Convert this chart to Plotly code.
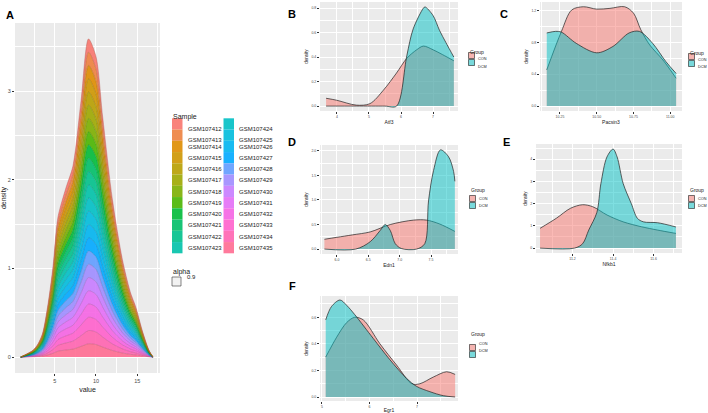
import math
import plotly.graph_objects as go

# ── Panel A: stacked sample densities ─────────────────────────────────────────
A_SAMPLES = [f"GSM1074{n}" for n in range(12, 36)]
A_X = [0.9, 2.4, 3.0, 3.55, 4.2, 4.8, 5.4, 6.4, 7.2, 8.2, 9.1, 10.0,
       10.8, 12.0, 13.2, 14.2, 14.8, 15.6, 16.4, 16.9]
A_DENS = [0.0, 0.0033, 0.0063, 0.0113, 0.025, 0.0425, 0.0658, 0.080, 0.0896,
          0.1208, 0.1496, 0.1413, 0.1133, 0.0738, 0.0458, 0.030, 0.0238,
          0.0125, 0.0033, 0.0]

# ── Panels B–F: CON vs DCM densities ──────────────────────────────────────────
B_CON_X = [3.66, 3.99, 4.6, 5.03, 5.45, 5.86, 6.18, 6.49, 6.7, 7.0, 7.3, 7.65]
B_CON_Y = [0.064, 0.048, 0.008, 0.02, 0.13, 0.27, 0.39, 0.46, 0.49, 0.46, 0.42, 0.37]
B_DCM_X = [3.66, 4.6, 5.5, 5.86, 6.18, 6.38, 6.7, 6.75, 7.0, 7.2, 7.4, 7.65]
B_DCM_Y = [0.0, 0.0, 0.0, 0.0, 0.41, 0.63, 0.80, 0.81, 0.74, 0.62, 0.52, 0.40]

C_CON_X = [10.16, 10.26, 10.33, 10.41, 10.50, 10.59, 10.69, 10.75, 10.80, 10.86, 10.95, 11.04]
C_CON_Y = [0.455, 0.94, 1.21, 1.25, 1.22, 1.23, 1.25, 1.17, 0.96, 0.77, 0.58, 0.35]
C_DCM_X = [10.16, 10.22, 10.26, 10.36, 10.50, 10.61, 10.72, 10.79, 10.88, 10.97, 11.04]
C_DCM_Y = [0.92, 0.94, 0.93, 0.79, 0.67, 0.75, 0.92, 0.94, 0.79, 0.56, 0.41]

D_CON_X = [5.8, 6.0, 6.25, 6.53, 6.85, 7.22, 7.43, 7.64, 7.88]
D_CON_Y = [0.20, 0.24, 0.29, 0.35, 0.50, 0.59, 0.59, 0.51, 0.36]
D_DCM_X = [5.8, 6.3, 6.53, 6.69, 6.77, 6.85, 6.93, 7.03, 7.27, 7.40, 7.46,
           7.54, 7.65, 7.78, 7.86, 7.88]
D_DCM_Y = [0.0, 0.0, 0.15, 0.38, 0.50, 0.38, 0.11, 0.01, 0.0, 0.11, 0.98,
           1.6, 2.02, 1.88, 1.58, 1.38]

E_CON_X = [11.04, 11.12, 11.19, 11.25, 11.30, 11.37, 11.45, 11.54, 11.62, 11.71]
E_CON_Y = [0.89, 1.34, 1.79, 1.95, 1.86, 1.49, 1.18, 0.96, 0.81, 0.66]
E_DCM_X = [11.04, 11.21, 11.25, 11.28, 11.32, 11.34, 11.37, 11.40, 11.42,
           11.45, 11.49, 11.52, 11.55, 11.62, 11.71]
E_DCM_Y = [0.0, 0.0, 0.2, 0.81, 1.6, 2.9, 4.1, 4.45, 4.1, 2.9, 2.0, 1.34,
           1.18, 1.14, 0.95]

F_CON_X = [5.08, 5.31, 5.52, 5.69, 5.87, 6.22, 6.57, 6.89, 7.06, 7.34, 7.62, 7.80]
F_CON_Y = [0.30, 0.45, 0.56, 0.60, 0.58, 0.40, 0.24, 0.10, 0.10, 0.15, 0.19, 0.17]
F_DCM_X = [5.08, 5.2, 5.38, 5.52, 5.69, 6.08, 6.43, 6.78, 6.99, 7.27, 7.55, 7.80]
F_DCM_Y = [0.58, 0.68, 0.73, 0.69, 0.62, 0.44, 0.28, 0.14, 0.08, 0.04, 0.01, 0.0]

GROUPS = ["CON", "DCM"]

W, H = 708, 413
_FONT = "Liberation Sans, Arial, sans-serif"
_PANEL = "#EBEBEB"
_TXT = "#4D4D4D"
_CON = "rgba(248,118,109,0.5)"
_DCM = "rgba(0,191,196,0.5)"


def hcl_hex(h, c=100.0, l=65.0):
    """ggplot2 hue_pal colour (polarLUV -> sRGB)."""
    xn, yn, zn = 95.047, 100.0, 108.883
    y = yn * ((l + 16) / 116) ** 3
    u, v = c * math.cos(math.radians(h)), c * math.sin(math.radians(h))
    den = xn + 15 * yn + 3 * zn
    up, vp = u / (13 * l) + 4 * xn / den, v / (13 * l) + 9 * yn / den
    x = y * 9 * up / (4 * vp)
    z = y * (12 - 3 * up - 20 * vp) / (4 * vp)
    x, y, z = x / 100, y / 100, z / 100
    rgb = [3.2404542 * x - 1.5371385 * y - 0.4985314 * z,
           -0.9692660 * x + 1.8760108 * y + 0.0415560 * z,
           0.0556434 * x - 0.2040259 * y + 1.0572252 * z]
    out = []
    for ch in rgb:
        ch = 12.92 * ch if ch <= 0.0031308 else 1.055 * max(ch, 0) ** (1 / 2.4) - 0.055
        out.append(int(round(min(max(ch, 0), 1) * 255)))
    return out


def px(x):
    return x / W


def py(y):
    return 1 - y / H


def axis(dom_px, rng, dtick, minor, fmt, size=4, title=None, tsize=5, standoff=3):
    d = dict(domain=dom_px, range=rng, dtick=dtick, tick0=0, tickformat=fmt,
             showgrid=True, gridcolor="white", gridwidth=0.9, zeroline=False,
             showline=False, ticks="outside", ticklen=2, tickwidth=0.6,
             tickcolor="#333333", tickfont=dict(size=size, color=_TXT, family=_FONT),
             minor=dict(dtick=minor, tick0=0, showgrid=True, gridcolor="white",
                        gridwidth=0.45, ticks=""),
             automargin=False, fixedrange=True)
    if title:
        d["title"] = dict(text=title, font=dict(size=tsize, color="#222", family=_FONT),
                          standoff=standoff)
    return d


fig = go.Figure()
layout = dict(width=W, height=H, margin=dict(l=0, r=0, t=0, b=0),
              paper_bgcolor="white", plot_bgcolor=_PANEL, showlegend=False,
              font=dict(family=_FONT))

# ── A ────────────────────────────────────────────────────────────────────────
cols = [hcl_hex(15 + 15 * i) for i in range(24)]
for i in reversed(range(24)):
    r, g, b = cols[i]
    fig.add_trace(go.Scatter(
        x=A_X, y=A_DENS, mode="lines", stackgroup="a",
        line=dict(color=f"rgba({int(r*.7)},{int(g*.7)},{int(b*.7)},0.8)",
                  width=0.5, shape="spline", smoothing=0.8),
        fillcolor=f"rgba({r},{g},{b},0.9)", name=A_SAMPLES[i],
        xaxis="x", yaxis="y"))
layout["xaxis"] = axis([px(15), px(160)], [0.2, 17.75], 5, 2.5, "d", 5.5,
                       "value", 7, 4)
layout["yaxis"] = axis([py(373), py(23)], [-0.18, 3.77], 1, 0.5, "d", 5.5,
                       "density", 7, 4)

panels = [
    # name, x px, y px, xrange, yrange, xdtick, ydtick, xfmt, yfmt, xtitle, data
    ("2", (320, 458), (111, 2), [3.47, 7.78], [-0.04, 0.85], 1, 0.2, "d", ".1f",
     "Atf3", (B_CON_X, B_CON_Y, B_DCM_X, B_DCM_Y)),
    ("3", (540, 682), (111, 2), [10.114, 11.08], [-0.063, 1.31], 0.25, 0.4, ".2f", ".1f",
     "Pacsin3", (C_CON_X, C_CON_Y, C_DCM_X, C_DCM_Y)),
    ("4", (320, 458), (254, 145), [5.73, 7.93], [-0.1, 2.12], 0.5, 0.5, ".1f", ".1f",
     "Edn1", (D_CON_X, D_CON_Y, D_DCM_X, D_DCM_Y)),
    ("5", (536, 682), (253, 144), [11.02, 11.74], [-0.22, 4.68], 0.2, 1, ".1f", "d",
     "Nfkb1", (E_CON_X, E_CON_Y, E_DCM_X, E_DCM_Y)),
    ("6", (320, 458), (401, 296), [4.96, 7.86], [-0.03, 0.76], 1, 0.2, "d", ".1f",
     "Egr1", (F_CON_X, F_CON_Y, F_DCM_X, F_DCM_Y)),
]

for n, (xl, xr), (yb, yt), xr_, yr_, xd, yd, xf, yf, xt, data in panels:
    cx, cy, dx, dy = data
    for xs, ys, fc in ((cx, cy, _CON), (dx, dy, _DCM)):
        fig.add_trace(go.Scatter(
            x=xs, y=ys, mode="lines", fill="tozeroy", fillcolor=fc,
            line=dict(color="#222222", width=0.7, shape="spline", smoothing=0.9),
            xaxis=f"x{n}", yaxis=f"y{n}"))
    layout[f"xaxis{n}"] = axis([px(xl), px(xr)], xr_, xd, xd / 2, xf, 3.5,
                               xt, 5, 2)
    layout[f"xaxis{n}"]["anchor"] = f"y{n}"
    layout[f"yaxis{n}"] = axis([py(yb), py(yt)], yr_, yd, yd / 2, yf, 3.5,
                               "density", 4.5, 2)
    layout[f"yaxis{n}"]["anchor"] = f"x{n}"

fig.update_layout(**layout)

shapes, annos = [], []

# panel letters
for lbl, x, y in [("A", 4, 7), ("B", 292, 6), ("C", 510, 6), ("D", 292, 142),
                  ("E", 512, 142), ("F", 292, 294)]:
    annos.append(dict(x=px(x), y=py(y), xref="paper", yref="paper", text=f"<b>{lbl}</b>",
                      showarrow=False, font=dict(size=11, color="black", family=_FONT)))

# sample legend
annos.append(dict(x=px(171), y=py(111), xref="paper", yref="paper", text="Sample",
                  showarrow=False, xanchor="left", font=dict(size=7, color="#222")))
for i, name in enumerate(A_SAMPLES):
    col, row = divmod(i, 12)
    x0 = 172 + 51.5 * col
    y0 = 118.3 + 11.25 * row
    r, g, b = cols[i]
    shapes.append(dict(type="rect", xref="paper", yref="paper",
                       x0=px(x0), x1=px(x0 + 10.5), y0=py(y0), y1=py(y0 + 11.25),
                       fillcolor=f"rgba({r},{g},{b},0.9)", line=dict(width=0)))
    annos.append(dict(x=px(x0 + 13.5), y=py(y0 + 5.8), xref="paper", yref="paper",
                      text=name, showarrow=False, xanchor="left",
                      font=dict(size=6, color="#222")))
annos.append(dict(x=px(171), y=py(272), xref="paper", yref="paper", text="alpha",
                  showarrow=False, xanchor="left", font=dict(size=7, color="#222")))
shapes.append(dict(type="rect", xref="paper", yref="paper", x0=px(172), x1=px(181),
                   y0=py(277), y1=py(286), fillcolor="#F2F2F2",
                   line=dict(color="#333", width=0.6)))
annos.append(dict(x=px(184.5), y=py(281.5), xref="paper", yref="paper", text="0.9",
                  showarrow=False, xanchor="left", font=dict(size=6, color="#222")))

# group legends (right-hand ones nudged in so their labels stay on the page)
for gx, gy in [(468, 47), (688, 48), (469, 190), (688, 190), (469, 339)]:
    annos.append(dict(x=px(gx), y=py(gy), xref="paper", yref="paper", text="Group",
                      showarrow=False, xanchor="left", font=dict(size=5, color="#222")))
    for k, (grp, fc) in enumerate(zip(GROUPS, (_CON, _DCM))):
        y0 = gy + 5 + 7 * k
        shapes.append(dict(type="rect", xref="paper", yref="paper",
                           x0=px(gx), x1=px(gx + 7), y0=py(y0), y1=py(y0 + 7),
                           fillcolor="#F2F2F2", line=dict(width=0)))
        shapes.append(dict(type="rect", xref="paper", yref="paper",
                           x0=px(gx + 0.5), x1=px(gx + 6.5), y0=py(y0 + 0.5),
                           y1=py(y0 + 6.5), fillcolor=fc,
                           line=dict(color="#222", width=0.6)))
        annos.append(dict(x=px(gx + 8), y=py(y0 + 3.5), xref="paper", yref="paper",
                          text=grp, showarrow=False, xanchor="left",
                          font=dict(size=3.8, color="#222")))

fig.update_layout(shapes=shapes, annotations=annos)
# the page's default body margin would push the figure off its 708x413 frame
fig.write_html("out.html", config={"displayModeBar": False},
               post_script="document.body.style.margin='0';")
